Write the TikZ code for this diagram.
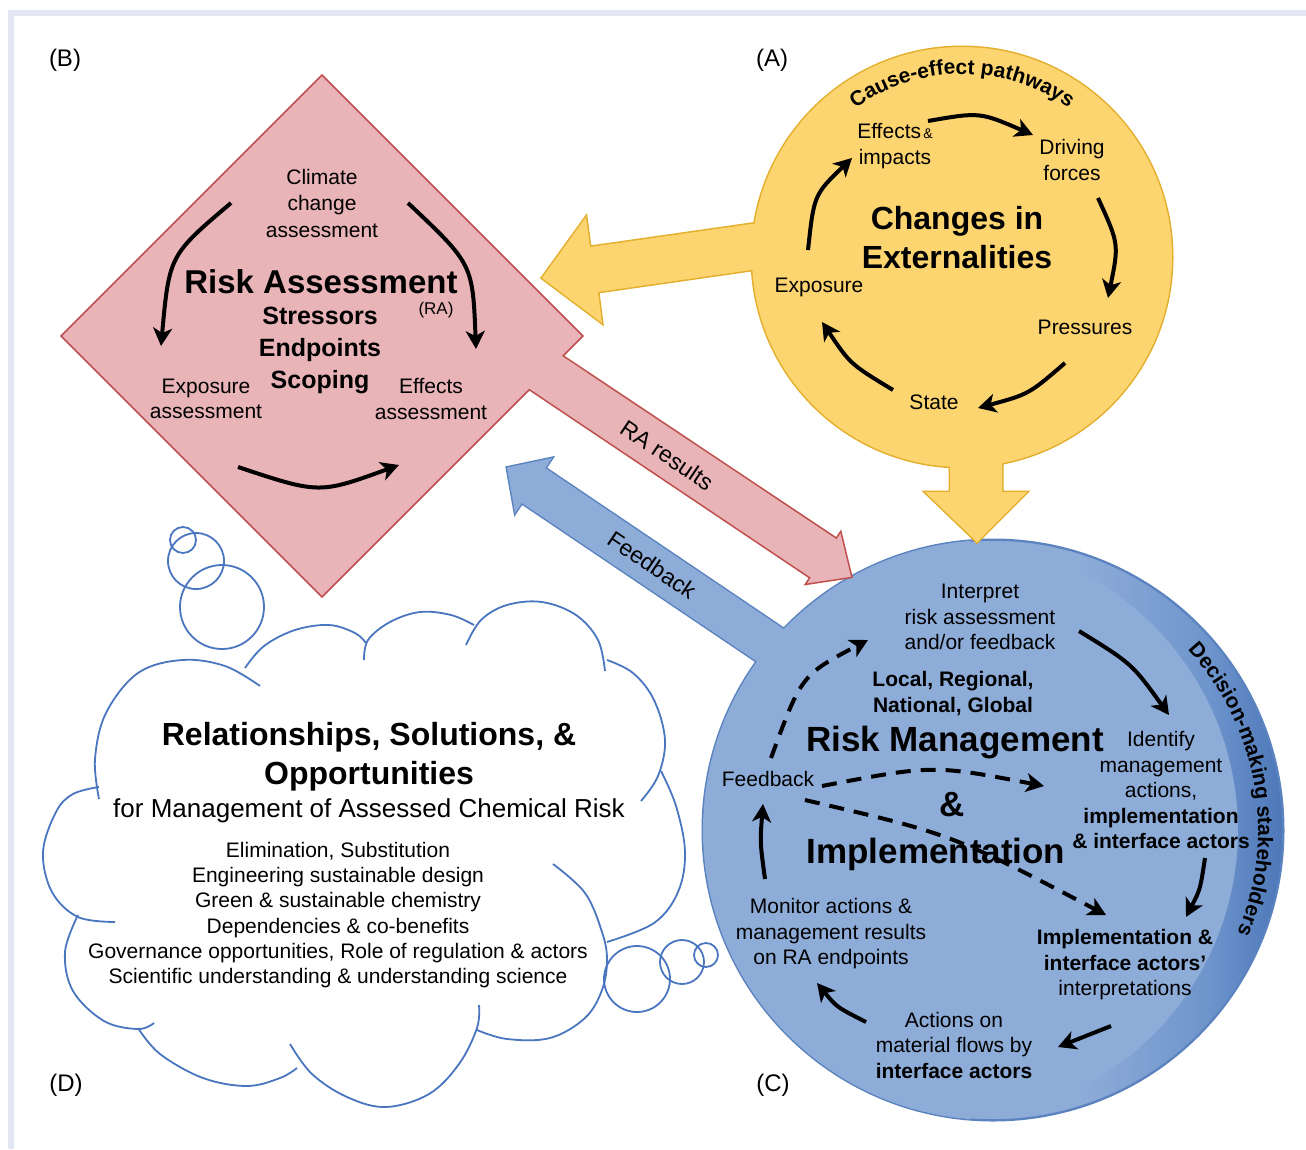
\documentclass[tikz,border=0pt]{standalone}
\usepackage{fontspec}
\setmainfont{Liberation Sans}
\usetikzlibrary{arrows.meta,decorations.text}
\newcommand\myfs[2]{\fontsize{#1}{#2}\selectfont}
\definecolor{framec}{HTML}{E2E6F4}
\definecolor{yfill}{HTML}{FDD570}
\definecolor{yline}{HTML}{E3AE2B}
\definecolor{pfill}{HTML}{E8B4B7}
\definecolor{pline}{HTML}{C0504D}
\definecolor{bfill}{HTML}{8EACD8}
\definecolor{bline}{HTML}{5B83BF}
\definecolor{bmid}{HTML}{6E95CC}
\definecolor{bdark}{HTML}{4A74B6}
\definecolor{cline}{HTML}{4A76C0}
\pgfdeclarehorizontalshading{ringsh}{100bp}{color(0bp)=(bfill); color(25bp)=(bfill); color(42bp)=(bfill); color(62bp)=(bmid); color(75bp)=(bdark); color(100bp)=(bdark)}
\begin{document}
\begin{tikzpicture}[x=1pt,y=-1pt,
 txt/.style={inner sep=0pt,align=center,font=\myfs{21}{25.5}},
 btxt/.style={txt,font=\myfs{21}{26}\bfseries},
 lbl/.style={inner sep=0pt,font=\myfs{24}{28}},
 big/.style={inner sep=0pt,align=center,font=\myfs{35}{40}\bfseries},
 cyc/.style={line width=4pt,-{Stealth[length=18pt,width=19pt,inset=5pt]}},
 dsh/.style={cyc,dash pattern=on 15pt off 10pt},
 cloudln/.style={draw=cline,line width=1.8pt},
]
\useasboundingbox (0,0) rectangle (1306,1149);
\fill[white] (0,0) rectangle (1306,1149);
\fill[framec] (8,10) rectangle (1306,16);
\fill[framec] (8,10) rectangle (14,1149);

% ---------- cloud (D) ----------
\draw[cloudln] plot[smooth,tension=0.6] coordinates {(115,922) (78,917) (52,892) (43,852) (56,812) (73,794) (99,787)};
\draw[cloudln] plot[smooth,tension=0.6] coordinates {(99,799) (95,759) (106,713) (138,673) (182,660) (225,666) (260,686)};
\draw[cloudln] plot[smooth,tension=0.6] coordinates {(245,668) (264,646) (295,630) (329,625) (355,633) (366,643)};
\draw[cloudln] plot[smooth,tension=0.6] coordinates {(364,660) (368,640) (390,622) (420,612) (451,615) (474,625)};
\draw[cloudln] plot[smooth,tension=0.6] coordinates {(466,645) (481,620) (507,605) (542,602) (576,615) (598,640) (605,671)};
\draw[cloudln] plot[smooth,tension=0.6] coordinates {(607,660) (633,673) (654,700) (665,740) (658,776) (641,801)};
\draw[cloudln] plot[smooth,tension=0.6] coordinates {(661,771) (676,806) (685,852) (678,892) (654,923) (607,942)};
\draw[cloudln] plot[smooth,tension=0.6] coordinates {(553,864) (585,893) (602,932) (607,960) (602,990) (585,1018) (550,1038) (507,1039) (477,1030)};
\draw[cloudln] plot[smooth,tension=0.6] coordinates {(479,1005) (477,1028) (459,1064) (429,1094) (386,1107) (347,1097) (312,1074) (290,1044)};
\draw[cloudln] plot[smooth,tension=0.6] coordinates {(138,1028) (160,1054) (203,1078) (247,1086) (280,1078) (297,1068)};
\draw[cloudln] plot[smooth,tension=0.6] coordinates {(78,915) (65,952) (73,991) (104,1021) (138,1029) (154,1023)};
\draw[cloudln] (183,540) circle (13);
\draw[cloudln] (196,561) circle (28);
\draw[cloudln] (222,607) circle (42);
\draw[cloudln] (637,979) circle (33);
\draw[cloudln] (682,962) circle (22);
\draw[cloudln] (706,955) circle (12);

% ---------- blue group (C) ----------
\draw[bline,line width=3pt] (993,830) circle (290);
\draw[bline,line width=3pt] (507,467.6) -- (551.9,458.1) -- (545.2,468.1) -- (818.7,652.6) -- (795.3,687.4) -- (521.8,502.9) -- (515.1,512.9) -- cycle;
\fill[bfill] (993,830) circle (290);
\fill[bfill] (507,467.6) -- (551.9,458.1) -- (545.2,468.1) -- (818.7,652.6) -- (795.3,687.4) -- (521.8,502.9) -- (515.1,512.9) -- cycle;
\shade[shading=ringsh] (970.5,540.9) arc[start angle=-94.45,end angle=94.45,radius=290] arc[start angle=85.55,end angle=-85.55,radius=290] -- cycle;
\draw[bline,line width=1.5pt] (970.5,540.9) arc[start angle=-94.45,end angle=94.45,radius=290];

% ---------- yellow group (A) ----------
\draw[yline,line width=3pt] (962,257) circle (210);
\draw[yline,line width=3pt] (542,278) -- (586,217) -- (590,247) -- (800,217) -- (800,263) -- (598,292) -- (602,323) -- cycle;
\draw[yline,line width=3pt] (950,440) -- (1002,440) -- (1002,492) -- (1027,492) -- (977,542) -- (925,492) -- (950,492) -- cycle;
\fill[yfill] (962,257) circle (210);
\fill[yfill] (542,278) -- (586,217) -- (590,247) -- (800,217) -- (800,263) -- (598,292) -- (602,323) -- cycle;
\fill[yfill] (950,440) -- (1002,440) -- (1002,492) -- (1027,492) -- (977,542) -- (925,492) -- (950,492) -- cycle;

% ---------- pink group (B) ----------
\draw[pline,line width=1.5pt,fill=pfill] (322,75) -- (583,336) -- (563.2,355.8) -- (836.3,538) -- (840.8,531.3) -- (852,577.4) -- (805.2,584.5) -- (809.6,577.8) -- (529.3,389.7) -- (322,597) -- (61,336) -- cycle;

% ---------- panel labels ----------
\node[lbl] (labB) at (65,60) {(B)};
\node[lbl] (labA) at (772,60) {(A)};
\node[lbl] (labD) at (66,1085) {(D)};
\node[lbl] (labC) at (773,1085) {(C)};

% ---------- broad arrow labels ----------
\node[inner sep=0pt,font=\myfs{23}{26},rotate=-34] (rares) at (667,455) {RA results};
\node[inner sep=0pt,font=\myfs{23}{26},rotate=-34] (fbk) at (652,565) {Feedback};

% ---------- yellow content ----------
\path[decorate,decoration={text along path,text align=center,text={|\myfs{21}{21}\bfseries|Cause-effect pathways}}] (844.4,116.8) arc[start angle=-130,end angle=-50,radius=183];
\node[txt] (effimp) at (895,146) {Effects{\myfs{14}{14}\,\&}\\impacts};
\node[txt] (drive) at (1072,160) {Driving\\forces};
\node[inner sep=0pt,align=center,font=\myfs{32}{39}\bfseries] (chext) at (957,238) {Changes in\\Externalities};
\node[txt] (expo) at (819,287) {Exposure};
\node[txt] (press) at (1085,327) {Pressures};
\node[txt] (state) at (934,402) {State};
\coordinate (ya1) at (928,121); \coordinate (yq1) at (979.8,112); \coordinate (yb1) at (1033,135);
\coordinate (ya2) at (1098,198); \coordinate (yq2) at (1119,244); \coordinate (yb2) at (1108,298);
\coordinate (ya3) at (1065,363); \coordinate (yq3) at (1028.8,394.2); \coordinate (yb3) at (978,408);
\coordinate (ya4) at (893,390); \coordinate (yq4) at (850.2,364); \coordinate (yb4) at (822,322);
\coordinate (ya5) at (808,250); \coordinate (yq5) at (814,194.7); \coordinate (yb5) at (852,158);
\draw[cyc] (ya1) .. controls (yq1) .. (yb1);
\draw[cyc] (ya2) .. controls (yq2) .. (yb2);
\draw[cyc] (ya3) .. controls (yq3) .. (yb3);
\draw[cyc] (ya4) .. controls (yq4) .. (yb4);
\draw[cyc] (ya5) .. controls (yq5) .. (yb5);

% ---------- pink content ----------
\node[txt,font=\myfs{21}{26.5}] (clim) at (322,203) {Climate\\change\\assessment};
\node[inner sep=0pt,font=\myfs{33}{38}\bfseries] (ra) at (321,282) {Risk Assessment};
\node[inner sep=0pt,font=\myfs{17}{20}] (rashort) at (436,310) {(RA)};
\node[inner sep=0pt,align=center,font=\myfs{25}{32}\bfseries] (stress) at (320,350) {Stressors\\Endpoints\\Scoping};
\node[txt] (expass) at (206,399) {Exposure\\assessment};
\node[txt] (effass) at (431,399) {Effects\\assessment};
\coordinate (pa1) at (231,203); \coordinate (pq1) at (169.3,255.2); \coordinate (pb1) at (161,346);
\coordinate (pa2) at (408,203); \coordinate (pq2) at (472.7,264); \coordinate (pb2) at (476,349);
\coordinate (pa3) at (238,467); \coordinate (pq3) at (319.2,494); \coordinate (pb3) at (399,465);
\draw[cyc] (pa1) .. controls (pq1) .. (pb1);
\draw[cyc] (pa2) .. controls (pq2) .. (pb2);
\draw[cyc] (pa3) .. controls (pq3) .. (pb3);

% ---------- blue content ----------
\coordinate (da1) at (771,758); \coordinate (dq1) at (801.5,675); \coordinate (db1) at (868,640);
\coordinate (da2) at (822,786); \coordinate (dq2) at (933,764.7); \coordinate (db2) at (1044,786);
\coordinate (da3) at (805,800); \coordinate (dq3) at (952.2,834.2); \coordinate (db3) at (1106,915);
\draw[dsh] (da1) .. controls (dq1) .. (db1);
\draw[dsh] (da2) .. controls (dq2) .. (db2);
\draw[dsh] (da3) .. controls (dq3) .. (db3);
\path[decorate,decoration={text along path,text align=center,text={|\myfs{21}{21}\bfseries|Decision-making stakeholders}}] (1163.4,627.0) arc[start angle=-50,end angle=30,radius=265];
\node[txt] (interp) at (980,617) {Interpret\\risk assessment\\and/or feedback};
\node[btxt] (scale) at (953,694) {Local, Regional,\\National, Global};
\node[big] (rm) at (955,743) {Risk Management};
\node[big] (amp) at (952,805) {\&};
\node[big] (impl) at (936,854) {Implementation};
\node[txt] (ident) at (1161,790) {Identify\\management\\actions,\\\textbf{implementation}\\\textbf{\& interface actors}};
\node[txt] (fbin) at (768,779) {Feedback};
\node[txt] (monit) at (831,934) {Monitor actions \&\\management results\\on RA endpoints};
\node[txt] (implact) at (1125,965) {\textbf{Implementation \&}\\\textbf{interface actors'}\\interpretations};
\node[txt] (actions) at (954,1045) {Actions on\\material flows by\\\textbf{interface actors}};
\coordinate (ba1) at (1079,631); \coordinate (bq1) at (1132,663.7); \coordinate (bb1) at (1169,715);
\coordinate (ba2) at (1205,858); \coordinate (bq2) at (1200.2,889.5); \coordinate (bb2) at (1186,917);
\coordinate (ba3) at (1111,1026); \coordinate (bb3) at (1058,1047);
\coordinate (ba4) at (866,1022); \coordinate (bq4) at (836.8,1007.2); \coordinate (bb4) at (817,983);
\coordinate (ba5) at (765,879); \coordinate (bq5) at (760,842.2); \coordinate (bb5) at (763,804);
\draw[cyc] (ba1) .. controls (bq1) .. (bb1);
\draw[cyc] (ba2) .. controls (bq2) .. (bb2);
\draw[cyc] (ba3) -- (bb3);
\draw[cyc] (ba4) .. controls (bq4) .. (bb4);
\draw[cyc] (ba5) .. controls (bq5) .. (bb5);

% ---------- cloud content ----------
\node[inner sep=0pt,align=center,font=\myfs{32}{39}\bfseries] (reltitle) at (369,757) {Relationships, Solutions, \&\\Opportunities};
\node[inner sep=0pt,font=\myfs{26}{30}] (relsub) at (369,811) {for Management of Assessed Chemical Risk};
\node[txt,font=\myfs{21}{25.2}] (rellist) at (338,915) {Elimination, Substitution\\Engineering sustainable design\\Green \& sustainable chemistry\\Dependencies \& co-benefits\\Governance opportunities, Role of regulation \& actors\\Scientific understanding \& understanding science};
\end{tikzpicture}
\end{document}
